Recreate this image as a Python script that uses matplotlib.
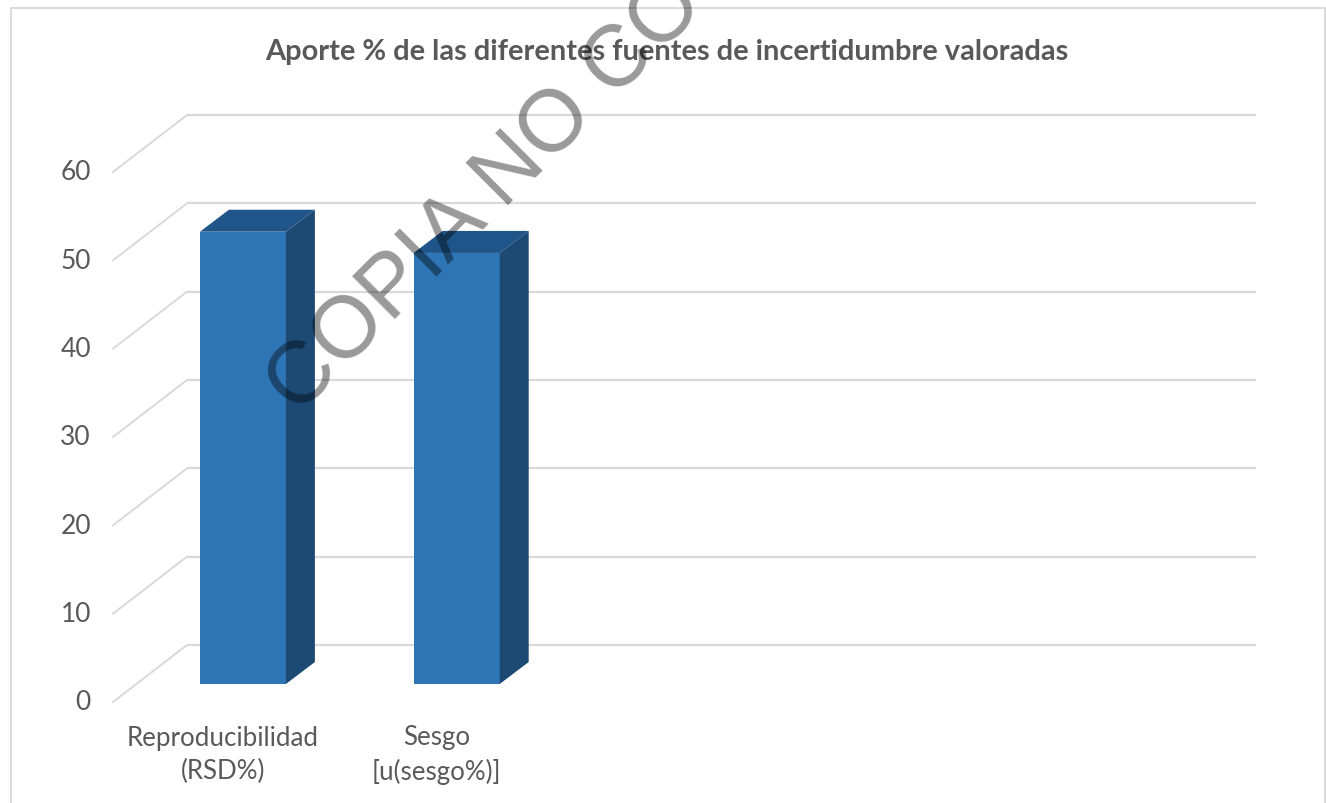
import matplotlib
matplotlib.use("Agg")
import matplotlib.pyplot as plt
from matplotlib.lines import Line2D
from matplotlib.patches import Polygon

# data
categories = ["Reproducibilidad\n(RSD%)", "Sesgo\n[u(sesgo%)]"]
values = [51.2, 48.8]
y_ticks = [0, 10, 20, 30, 40, 50, 60]
title = "Aporte % de las diferentes fuentes de incertidumbre valoradas"
# only this much of the stamp is visible, the rest is cropped in the source
watermark = "COPIA NO CO"

WIDTH = 1326
HEIGHT = 804
# back wall of the fake 3d box, in pixels
LEFT = 187
RIGHT = 1256
TOP = 116
BOTTOM = 646
SLOTS = 5

GRID = "#d9d9d9"
TEXT = "#595959"
FRONT = "#2e75b6"
ROOF = "#20558a"
SIDE = "#1c4a75"

plt.rcParams['font.family'] = ['Lato', 'DejaVu Sans']

fig = plt.figure(figsize=(WIDTH / 100, HEIGHT / 100), dpi=100)
ax = fig.add_axes([LEFT / WIDTH, 1 - BOTTOM / HEIGHT, (RIGHT - LEFT) / WIDTH, (BOTTOM - TOP) / HEIGHT])
ax.set_xlim(-0.5, SLOTS - 0.5)
ax.set_ylim(0, 60)
ax.axis('off')

# size of one pixel in data units
px = SLOTS / (RIGHT - LEFT)
py = 60 / (BOTTOM - TOP)

# gridlines: back wall + diagonal on the left wall
for t in y_ticks:
    ax.plot([-0.5, SLOTS - 0.5], [t, t], color=GRID, lw=1.6, clip_on=False, solid_capstyle='butt')
    ax.plot([-0.5 - 74 * px, -0.5], [t - 57 * py, t], color=GRID, lw=1.4, clip_on=False)
    ax.text(-0.5 - 96 * px, t - 57 * py, str(t), ha='right', va='center', color=TEXT, fontsize=19)

# bars: front face offset from the back wall, then roof and side
dx = -51 * px
base = -39 * py
bar_w = 86 * px
depth_x = 29 * px
depth_y = 22 * py
for i in range(len(values)):
    left = i + dx - bar_w / 2
    right = left + bar_w
    top = base + values[i]
    ax.bar(left + bar_w / 2, values[i], bottom=base, width=bar_w, color=FRONT, clip_on=False, zorder=3)
    ax.add_patch(Polygon([(left, top), (right, top), (right + depth_x, top + depth_y), (left + depth_x, top + depth_y)],
                         closed=True, facecolor=ROOF, edgecolor='none', clip_on=False, zorder=3))
    ax.add_patch(Polygon([(right, base), (right + depth_x, base + depth_y), (right + depth_x, top + depth_y), (right, top)],
                         closed=True, facecolor=SIDE, edgecolor='none', clip_on=False, zorder=3))
    ax.text(i - 71 * px, -109 * py, categories[i], ha='center', va='center', color=TEXT, fontsize=18.6, linespacing=1.4)

# outer frame of the pasted chart
frame_x = [10.5, 10.5, 1325, 1325]
frame_y = [HEIGHT, 8.5, 8.5, HEIGHT]
fig.add_artist(Line2D([x / WIDTH for x in frame_x], [1 - y / HEIGHT for y in frame_y],
                      transform=fig.transFigure, color=GRID, lw=1.4))

fig.text(667 / WIDTH, 1 - 52 / HEIGHT, title, ha='center', va='center', color=TEXT, fontsize=20.9, fontweight='bold')

fig.text(297 / WIDTH, 1 - 416 / HEIGHT, watermark, family='Liberation Sans', fontsize=63, color='black', alpha=0.4,
         rotation=45, rotation_mode='anchor', ha='left', va='baseline', zorder=5)

plt.savefig("out.png", dpi=100)
plt.close()
